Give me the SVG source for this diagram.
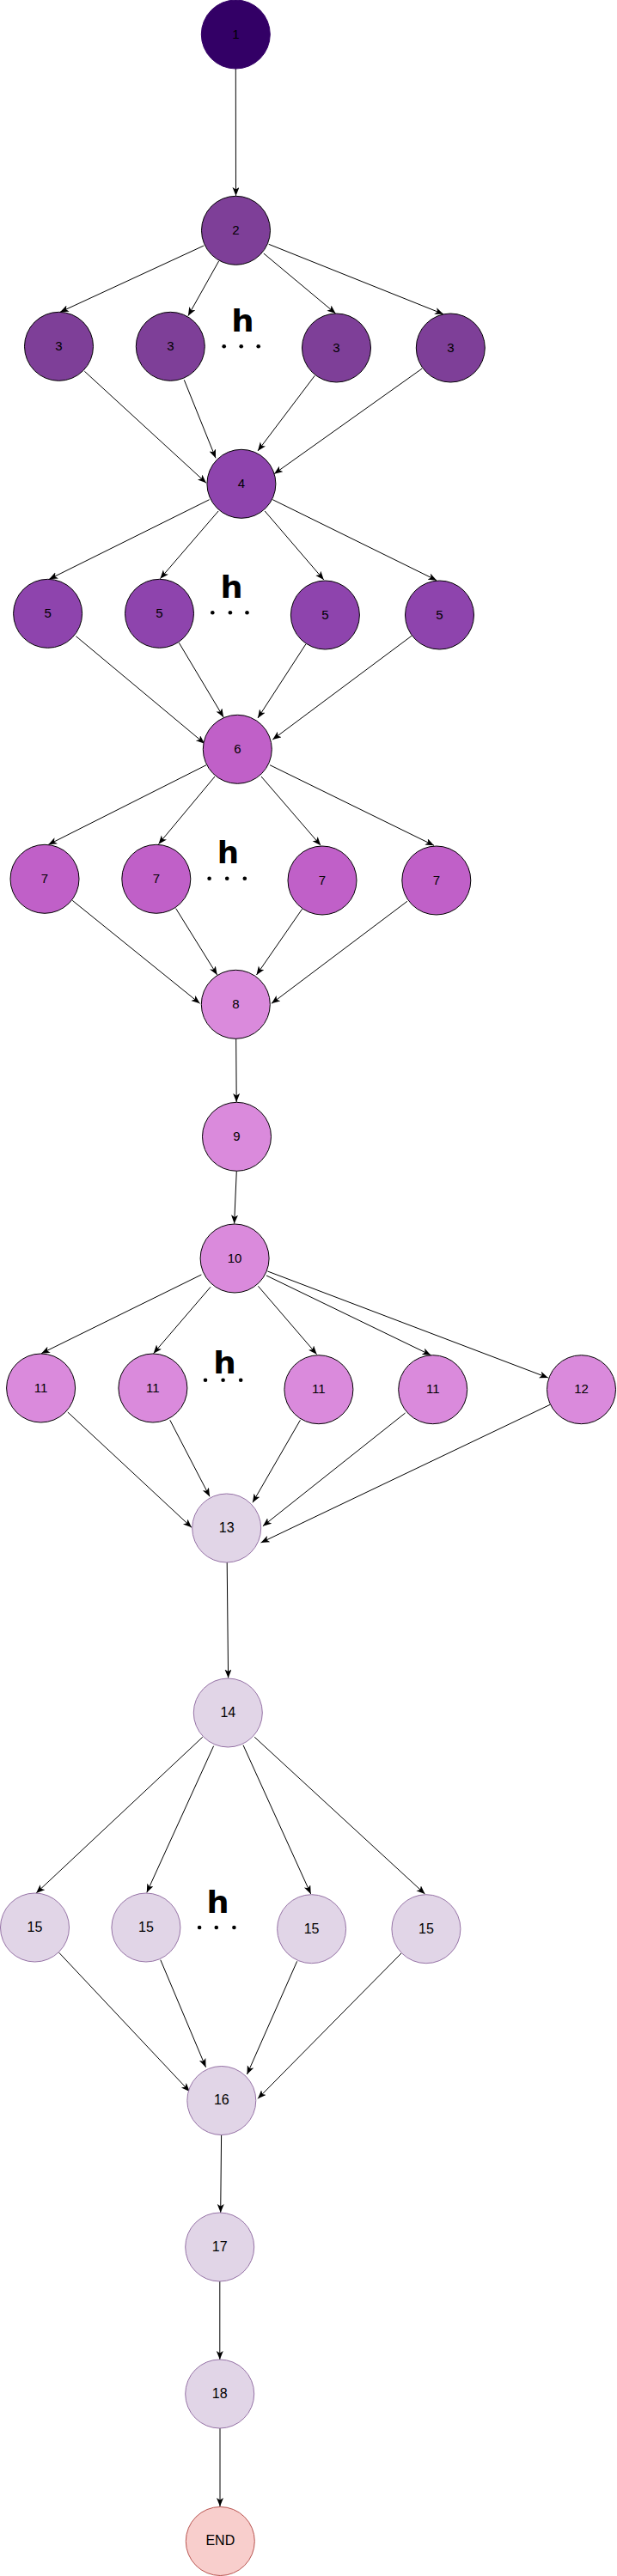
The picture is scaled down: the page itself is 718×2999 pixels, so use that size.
<svg xmlns="http://www.w3.org/2000/svg" width="718" height="2999" viewBox="0 0 718 2999">
<style>
.n circle{stroke:#000;stroke-width:1}
.c1 circle{fill:#330066;stroke:#330066}
.c2 circle{fill:#7E3F98}
.c3 circle{fill:#8E44AD}
.c4 circle{fill:#C060C8}
.c5 circle{fill:#DA8ADC}
.c6 circle{fill:#E1D5E7;stroke:#9673A6}
.c7 circle{fill:#F8CECC;stroke:#B85450}
.n text{font-family:"Liberation Sans",Arial,sans-serif;font-size:15px;fill:#000;text-anchor:middle}
.c6 text,.c7 text{font-size:16px}
#edges line{stroke:#000;stroke-width:1;fill:none;marker-end:url(#ah)}
.h{font-family:"DejaVu Sans","Liberation Sans",sans-serif;font-weight:bold;font-size:36px;fill:#000}
.dot{fill:#000}
</style>
<defs>
<marker id="ah" markerUnits="userSpaceOnUse" markerWidth="12" markerHeight="10" refX="10" refY="4" orient="auto">
<path d="M0,0 L10,4 L0,8 L2.5,4 Z" fill="#000"/>
</marker>
</defs>
<g id="edges">
<line x1="274.3" y1="80" x2="274.5" y2="228"/>
<line x1="237.2" y1="286" x2="70" y2="363.3"/>
<line x1="254.6" y1="304" x2="218.9" y2="367.7"/>
<line x1="306.8" y1="295" x2="390.6" y2="365"/>
<line x1="312.7" y1="284.3" x2="516" y2="365.7"/>
<line x1="98.4" y1="432.3" x2="240" y2="562.3"/>
<line x1="214.3" y1="442.3" x2="251" y2="533.3"/>
<line x1="366.3" y1="437.3" x2="300" y2="525"/>
<line x1="491.3" y1="429" x2="319" y2="551.7"/>
<line x1="243.6" y1="581.7" x2="57.2" y2="674.3"/>
<line x1="254.1" y1="595" x2="186.4" y2="673.7"/>
<line x1="308.2" y1="595" x2="376.8" y2="675"/>
<line x1="317.3" y1="581.7" x2="508.2" y2="675.7"/>
<line x1="88.4" y1="740.7" x2="238.1" y2="865.7"/>
<line x1="208.3" y1="748.3" x2="260.1" y2="835"/>
<line x1="355.8" y1="750" x2="300" y2="836"/>
<line x1="479.4" y1="740" x2="317.3" y2="861"/>
<line x1="240" y1="890.7" x2="56.3" y2="983.3"/>
<line x1="250" y1="904" x2="184.5" y2="982.7"/>
<line x1="304" y1="904" x2="373.2" y2="984.3"/>
<line x1="314.1" y1="890.7" x2="505" y2="984.3"/>
<line x1="84.2" y1="1048.3" x2="232.6" y2="1168.3"/>
<line x1="204.7" y1="1057.7" x2="252.7" y2="1135"/>
<line x1="351.6" y1="1058.3" x2="298.5" y2="1135"/>
<line x1="473.9" y1="1049.3" x2="316" y2="1168.3"/>
<line x1="274.7" y1="1209.3" x2="275.2" y2="1283"/>
<line x1="275.3" y1="1363.3" x2="272.6" y2="1424.5"/>
<line x1="234.4" y1="1484" x2="48.1" y2="1575.7"/>
<line x1="245" y1="1498.3" x2="178.6" y2="1575.7"/>
<line x1="300.4" y1="1497.3" x2="368.6" y2="1576.7"/>
<line x1="310" y1="1485" x2="501.4" y2="1577.7"/>
<line x1="311.4" y1="1480" x2="637.8" y2="1604"/>
<line x1="78.8" y1="1644" x2="223" y2="1778.3"/>
<line x1="197.8" y1="1653.3" x2="244" y2="1742.3"/>
<line x1="349.4" y1="1653.3" x2="294" y2="1749.3"/>
<line x1="471.6" y1="1645" x2="305.9" y2="1776.7"/>
<line x1="640.1" y1="1635.3" x2="303.6" y2="1796"/>
<line x1="264.2" y1="1819" x2="265.6" y2="1953.5"/>
<line x1="235.8" y1="2022.3" x2="42.1" y2="2204"/>
<line x1="248.6" y1="2032.7" x2="170.8" y2="2203.3"/>
<line x1="283" y1="2031.7" x2="361.7" y2="2205"/>
<line x1="296.2" y1="2022.3" x2="494.5" y2="2205"/>
<line x1="68.7" y1="2273.3" x2="220.7" y2="2435"/>
<line x1="186.8" y1="2281.7" x2="239.5" y2="2406.7"/>
<line x1="345.7" y1="2283.3" x2="287.5" y2="2415"/>
<line x1="467" y1="2274" x2="300" y2="2443.3"/>
<line x1="257.6" y1="2485.5" x2="256.7" y2="2576"/>
<line x1="255.8" y1="2656" x2="255.8" y2="2747"/>
<line x1="256" y1="2827" x2="256" y2="2918"/>
</g>
<g id="n1" class="n c1"><circle cx="274.3" cy="40" r="40"/><text x="274.3" y="44.5">1</text></g>
<g id="n2" class="n c2"><circle cx="274.5" cy="268.3" r="40"/><text x="274.5" y="272.8">2</text></g>
<g id="n3a" class="n c2"><circle cx="68.5" cy="403.3" r="40"/><text x="68.5" y="407.8">3</text></g>
<g id="n3b" class="n c2"><circle cx="198.3" cy="403.3" r="40"/><text x="198.3" y="407.8">3</text></g>
<g id="n3c" class="n c2"><circle cx="391.5" cy="405" r="40"/><text x="391.5" y="409.5">3</text></g>
<g id="n3d" class="n c2"><circle cx="524.3" cy="405" r="40"/><text x="524.3" y="409.5">3</text></g>
<g id="n4" class="n c3"><circle cx="280.9" cy="563.3" r="40"/><text x="280.9" y="567.8">4</text></g>
<g id="n5a" class="n c3"><circle cx="55.6" cy="714.3" r="40"/><text x="55.6" y="718.8">5</text></g>
<g id="n5b" class="n c3"><circle cx="185.5" cy="714.3" r="40"/><text x="185.5" y="718.8">5</text></g>
<g id="n5c" class="n c3"><circle cx="378.4" cy="716" r="40"/><text x="378.4" y="720.5">5</text></g>
<g id="n5d" class="n c3"><circle cx="511.5" cy="716" r="40"/><text x="511.5" y="720.5">5</text></g>
<g id="n6" class="n c4"><circle cx="276.3" cy="872.3" r="40"/><text x="276.3" y="876.8">6</text></g>
<g id="n7a" class="n c4"><circle cx="52" cy="1023.3" r="40"/><text x="52" y="1027.8">7</text></g>
<g id="n7b" class="n c4"><circle cx="181.8" cy="1023.3" r="40"/><text x="181.8" y="1027.8">7</text></g>
<g id="n7c" class="n c4"><circle cx="375" cy="1025" r="40"/><text x="375" y="1029.5">7</text></g>
<g id="n7d" class="n c4"><circle cx="507.8" cy="1025" r="40"/><text x="507.8" y="1029.5">7</text></g>
<g id="n8" class="n c5"><circle cx="274.3" cy="1169.3" r="40"/><text x="274.3" y="1173.8">8</text></g>
<g id="n9" class="n c5"><circle cx="275.5" cy="1323.3" r="40"/><text x="275.5" y="1327.8">9</text></g>
<g id="n10" class="n c5"><circle cx="273.1" cy="1465" r="40"/><text x="273.1" y="1469.5">10</text></g>
<g id="n11a" class="n c5"><circle cx="47.6" cy="1616" r="40"/><text x="47.6" y="1620.5">11</text></g>
<g id="n11b" class="n c5"><circle cx="177.9" cy="1616" r="40"/><text x="177.9" y="1620.5">11</text></g>
<g id="n11c" class="n c5"><circle cx="370.9" cy="1617.7" r="40"/><text x="370.9" y="1622.2">11</text></g>
<g id="n11d" class="n c5"><circle cx="503.7" cy="1617.7" r="40"/><text x="503.7" y="1622.2">11</text></g>
<g id="n12" class="n c5"><circle cx="676.5" cy="1617.7" r="40"/><text x="676.5" y="1622.2">12</text></g>
<g id="n13" class="n c6"><circle cx="263.7" cy="1779" r="40"/><text x="263.7" y="1783.8">13</text></g>
<g id="n14" class="n c6"><circle cx="265.3" cy="1994" r="40"/><text x="265.3" y="1998.8">14</text></g>
<g id="n15a" class="n c6"><circle cx="40.5" cy="2244" r="40"/><text x="40.5" y="2248.8">15</text></g>
<g id="n15b" class="n c6"><circle cx="169.9" cy="2244" r="40"/><text x="169.9" y="2248.8">15</text></g>
<g id="n15c" class="n c6"><circle cx="362.6" cy="2245.7" r="40"/><text x="362.6" y="2250.5">15</text></g>
<g id="n15d" class="n c6"><circle cx="495.9" cy="2245.7" r="40"/><text x="495.9" y="2250.5">15</text></g>
<g id="n16" class="n c6"><circle cx="257.8" cy="2445.5" r="40"/><text x="257.8" y="2450.3">16</text></g>
<g id="n17" class="n c6"><circle cx="255.7" cy="2616" r="40"/><text x="255.7" y="2620.8">17</text></g>
<g id="n18" class="n c6"><circle cx="255.7" cy="2787" r="40"/><text x="255.7" y="2791.8">18</text></g>
<g id="nEnd" class="n c7"><circle cx="256.3" cy="2958.5" r="40"/><text x="256.3" y="2963.3">END</text></g>
<g id="ellipsis">
<text class="h" x="269.3" y="386" textLength="26.4" lengthAdjust="spacingAndGlyphs">h</text>
<circle class="dot" cx="260.7" cy="403.3" r="2.3"/><circle class="dot" cx="280.7" cy="403.3" r="2.3"/><circle class="dot" cx="300.7" cy="403.3" r="2.3"/>
<text class="h" x="256.4" y="696" textLength="26.1" lengthAdjust="spacingAndGlyphs">h</text>
<circle class="dot" cx="247.3" cy="713.3" r="2.3"/><circle class="dot" cx="267.9" cy="713.3" r="2.3"/><circle class="dot" cx="287.5" cy="713.3" r="2.3"/>
<text class="h" x="252.7" y="1005" textLength="25.3" lengthAdjust="spacingAndGlyphs">h</text>
<circle class="dot" cx="243.6" cy="1022.7" r="2.3"/><circle class="dot" cx="264.2" cy="1022.7" r="2.3"/><circle class="dot" cx="284.8" cy="1022.7" r="2.3"/>
<text class="h" x="248.2" y="1599" textLength="26.5" lengthAdjust="spacingAndGlyphs">h</text>
<circle class="dot" cx="239" cy="1606.7" r="2.3"/><circle class="dot" cx="259.6" cy="1606.7" r="2.3"/><circle class="dot" cx="280.2" cy="1606.7" r="2.3"/>
<text class="h" x="240.4" y="2226.7" textLength="26.1" lengthAdjust="spacingAndGlyphs">h</text>
<circle class="dot" cx="232.1" cy="2244" r="2.3"/><circle class="dot" cx="251.8" cy="2244" r="2.3"/><circle class="dot" cx="272.4" cy="2244" r="2.3"/>
</g>
</svg>
